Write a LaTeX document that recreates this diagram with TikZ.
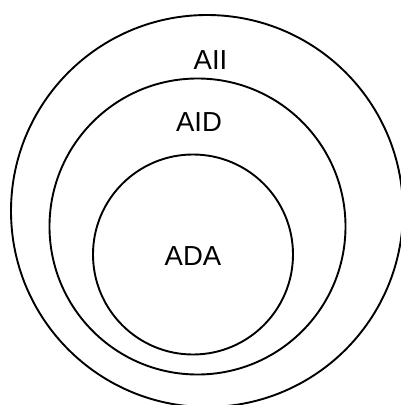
\documentclass[tikz,border=0pt]{standalone}
\usepackage{fontspec}
\setmainfont{Liberation Sans}
\begin{document}
\begin{tikzpicture}[x=1pt,y=-1pt,
  ring/.style={draw=black,line width=1.9pt,circle,inner sep=0pt},
  lab/.style={inner sep=0pt,font=\fontsize{27.5}{32}\selectfont}]
\useasboundingbox (0,0) rectangle (400,405);
\node[ring,minimum size=392pt] (outer) at (207,211) {};
\node[ring,minimum size=296pt] (middle) at (197.5,226.5) {};
\node[ring,minimum size=200pt] (inner) at (193,254.5) {};
\node[lab] (tall) at (210.5,60) {AII};
\node[lab] (taid) at (199,122.5) {AID};
\node[lab] (tada) at (193,256) {ADA};
\end{tikzpicture}
\end{document}
